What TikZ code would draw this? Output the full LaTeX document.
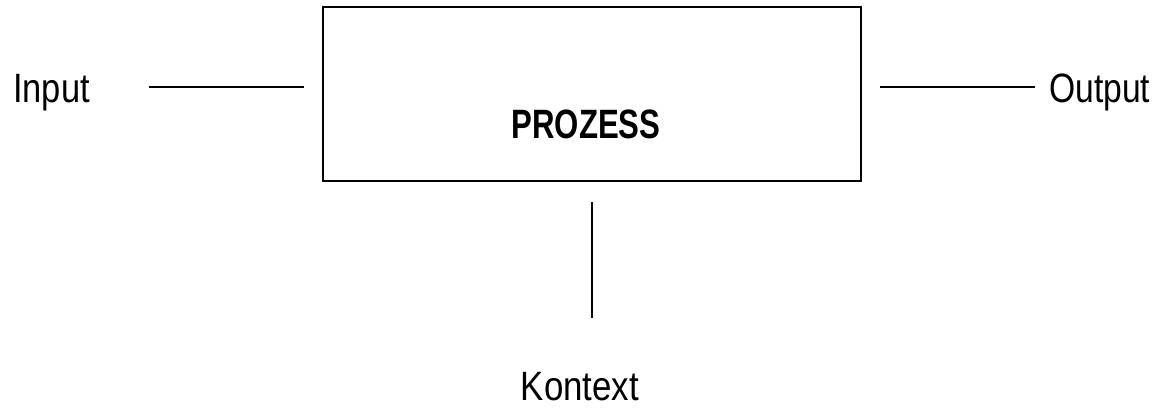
\documentclass[tikz,border=0pt]{standalone}
\usepackage{fontspec}
\setmainfont{Liberation Sans}
\begin{document}
\begin{tikzpicture}[x=1pt,y=-1pt,
  lbl/.style={inner sep=0pt,font=\fontsize{41}{48}\selectfont},
  conn/.style={line width=2pt},
  procbox/.style={draw,line width=2pt,minimum width=538pt,minimum height=174pt,inner sep=0pt}]
\useasboundingbox (0,0) rectangle (1162,409);
\node[procbox] (proc) at (592,94) {};
\node[lbl,anchor=base,font=\fontsize{41}{48}\selectfont\bfseries] (ptext) at (586,139) {\scalebox{0.76}[1]{PROZESS}};
\node[lbl,anchor=base west] (input) at (13,103) {\scalebox{0.84}[1]{Input}};
\node[lbl,anchor=base west] (output) at (1049,103) {\scalebox{0.82}[1]{Output}};
\node[lbl,anchor=base] (kontext) at (580,400) {\scalebox{0.85}[1]{Kontext}};
\coordinate (inA) at (149,87);
\coordinate (inB) at (304,87);
\coordinate (outA) at (880,87);
\coordinate (outB) at (1035,87);
\coordinate (kA) at (592,202);
\coordinate (kB) at (592,318);
\draw[conn] (inA) -- (inB);
\draw[conn] (outA) -- (outB);
\draw[conn] (kA) -- (kB);
\end{tikzpicture}
\end{document}
